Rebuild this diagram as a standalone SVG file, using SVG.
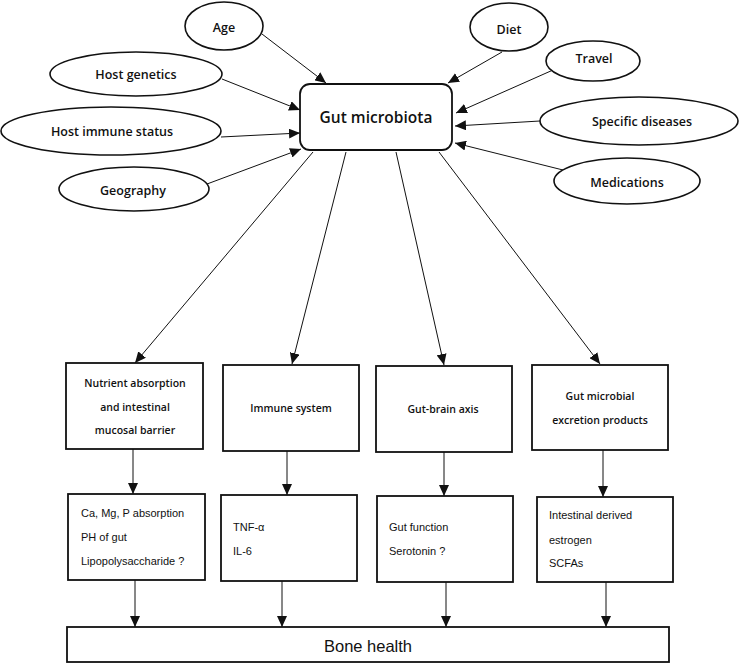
<svg xmlns="http://www.w3.org/2000/svg" width="739" height="664" viewBox="0 0 739 664">
<style>
text{font-family:"Liberation Sans",Arial,sans-serif;fill:#111;text-anchor:middle;dominant-baseline:central}
.s{font-family:"Open Sans","Liberation Sans",Arial,sans-serif;font-weight:600}
.el{fill:#fff;stroke:#111;stroke-width:1.6}
.bx{fill:#fff;stroke:#111;stroke-width:1.8}
.t13{font-size:12.5px}
.t11{font-size:10.5px}
.t11r{font-size:11px}
.l{text-anchor:start}
.c{stroke:#111;stroke-width:1;fill:none;marker-end:url(#ah)}
</style>
<defs>
<marker id="ah" markerWidth="12" markerHeight="10" refX="11" refY="5" orient="auto" markerUnits="userSpaceOnUse">
<path d="M0,0 L11,5 L0,10 Z" fill="#111"/>
</marker>
</defs>
<rect width="739" height="664" fill="#fff"/>
<g id="connectors">
<line class="c" x1="262" y1="34" x2="326" y2="83"/>
<line class="c" x1="222" y1="79" x2="300" y2="110"/>
<line class="c" x1="221" y1="137" x2="300" y2="133"/>
<line class="c" x1="207" y1="184" x2="301" y2="149"/>
<line class="c" x1="502" y1="52" x2="448" y2="83"/>
<line class="c" x1="553" y1="70" x2="456" y2="113"/>
<line class="c" x1="540" y1="121" x2="455" y2="126"/>
<line class="c" x1="563" y1="170" x2="455" y2="143"/>
<line class="c" x1="313" y1="152" x2="135" y2="363"/>
<line class="c" x1="346" y1="152" x2="292" y2="364"/>
<line class="c" x1="396" y1="152" x2="444" y2="365"/>
<line class="c" x1="439" y1="152" x2="600" y2="364"/>
<line class="c" x1="133" y1="449" x2="133" y2="494"/>
<line class="c" x1="287" y1="451" x2="287" y2="495"/>
<line class="c" x1="444" y1="452" x2="444" y2="496"/>
<line class="c" x1="603" y1="450" x2="603" y2="497"/>
<line class="c" x1="135" y1="580" x2="135" y2="627"/>
<line class="c" x1="282" y1="581" x2="282" y2="627"/>
<line class="c" x1="446" y1="582" x2="446" y2="627"/>
<line class="c" x1="606" y1="582" x2="606" y2="627"/>
</g>
<g id="age"><ellipse class="el" cx="224" cy="26" rx="39" ry="24"/><text class="t13 s" x="224" y="27">Age</text></g>
<g id="host-genetics"><ellipse class="el" cx="136" cy="74" rx="86" ry="22"/><text class="t13 s" x="136" y="74">Host genetics</text></g>
<g id="host-immune"><ellipse class="el" cx="111" cy="131" rx="110" ry="24"/><text class="t13 s" x="112" y="131">Host immune status</text></g>
<g id="geography"><ellipse class="el" cx="134" cy="189" rx="75" ry="22"/><text class="t13 s" x="133" y="190">Geography</text></g>
<g id="diet"><ellipse class="el" cx="509" cy="27" rx="39" ry="24"/><text class="t13 s" x="509" y="29">Diet</text></g>
<g id="travel"><ellipse class="el" cx="593" cy="61" rx="47" ry="20"/><text class="t13 s" x="594" y="58">Travel</text></g>
<g id="specific-diseases"><ellipse class="el" cx="639" cy="121" rx="99" ry="24"/><text class="t13 s" x="642" y="121">Specific diseases</text></g>
<g id="medications"><ellipse class="el" cx="627" cy="181" rx="73" ry="23"/><text class="t13 s" x="627" y="182">Medications</text></g>
<g id="gut-microbiota"><rect class="bx" x="300" y="84" width="152" height="66" rx="10"/><text class="s" x="376" y="117" font-size="15.5">Gut microbiota</text></g>
<g id="nutrient"><rect class="bx" x="66" y="363" width="137" height="86"/>
<text class="t11 s" x="135" y="383">Nutrient absorption</text>
<text class="t11 s" x="135" y="407">and intestinal</text>
<text class="t11 s" x="135" y="430">mucosal barrier</text></g>
<g id="immune"><rect class="bx" x="223" y="365" width="136" height="86"/><text class="t11 s" x="291" y="408">Immune system</text></g>
<g id="gut-brain"><rect class="bx" x="376" y="366" width="136" height="86"/><text class="t11 s" x="443" y="409">Gut-brain axis</text></g>
<g id="excretion"><rect class="bx" x="532" y="365" width="136" height="85"/>
<text class="t11 s" x="600" y="396">Gut microbial</text>
<text class="t11 s" x="600" y="420">excretion products</text></g>
<g id="minerals"><rect class="bx" x="68" y="494" width="137" height="86"/>
<text class="t11r l" x="81" y="513">Ca, Mg, P absorption</text>
<text class="t11r l" x="81" y="537">PH of gut</text>
<text class="t11r l" x="81" y="561">Lipopolysaccharide ?</text></g>
<g id="cytokines"><rect class="bx" x="221" y="495" width="136" height="86"/>
<text class="t11r l" x="233" y="527">TNF-α</text>
<text class="t11r l" x="233" y="551">IL-6</text></g>
<g id="gut-function"><rect class="bx" x="377" y="496" width="136" height="86"/>
<text class="t11r l" x="389" y="527">Gut function</text>
<text class="t11r l" x="389" y="551">Serotonin ?</text></g>
<g id="estrogen"><rect class="bx" x="537" y="497" width="136" height="85"/>
<text class="t11r l" x="549" y="515">Intestinal derived</text>
<text class="t11r l" x="549" y="540">estrogen</text>
<text class="t11r l" x="549" y="563">SCFAs</text></g>
<g id="bone-health"><rect class="bx" x="67" y="627" width="602" height="35"/><text x="368" y="646" font-size="16.5" font-family="Open Sans, Liberation Sans, sans-serif">Bone health</text></g>
</svg>
